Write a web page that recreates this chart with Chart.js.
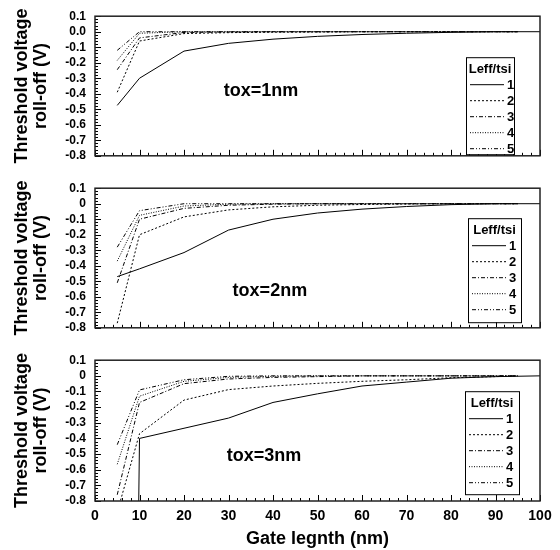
<!DOCTYPE html>
<html>
<head>
<meta charset="utf-8">
<script src="https://cdn.jsdelivr.net/npm/chart.js@4.4.0/dist/chart.umd.min.js"></script>
<style>
body{margin:0;background:#fff;}
#wrap{position:relative;width:560px;height:550px;}
canvas{position:absolute;left:0;}
</style>
</head>
<body>
<div id="wrap">
<canvas id="c1" width="560" height="172" style="top:0px"></canvas>
<canvas id="c2" width="560" height="172" style="top:172px"></canvas>
<canvas id="c3" width="560" height="206" style="top:344px"></canvas>
</div>
<script>
// gate length (nm) - solid curve runs to 100, the others stop at 95
var gateLength = [5, 10, 20, 30, 40, 50, 60, 70, 80, 90, 100];
var gateLengthShort = [5, 10, 20, 30, 40, 50, 60, 70, 80, 90, 95];
var ratioLabels = ['1', '2', '3', '4', '5'];

// tox = 1nm
var tox1_r1 = [-0.475, -0.30, -0.125, -0.075, -0.048, -0.03, -0.018, -0.01, -0.004, 0, 0];
var tox1_r2 = [-0.39, -0.06, -0.012, -0.006, -0.003, -0.002, 0, 0, 0, 0, 0];
var tox1_r3 = [-0.245, -0.04, -0.005, -0.002, 0, 0, 0, 0, 0, 0, 0];
var tox1_r4 = [-0.185, -0.01, 0, 0, 0, 0, 0, 0, 0, 0, 0];
var tox1_r5 = [-0.12, 0, 0, 0, 0, 0, 0, 0, 0, 0, 0];

// tox = 2nm
var tox2_r1 = [-0.47, -0.42, -0.315, -0.17, -0.1, -0.06, -0.035, -0.018, -0.006, 0, 0];
var tox2_r2 = [-0.77, -0.2, -0.085, -0.04, -0.02, -0.01, -0.005, -0.002, 0, 0, 0];
var tox2_r3 = [-0.51, -0.1, -0.03, -0.01, -0.003, 0, 0, 0, 0, 0, 0];
var tox2_r4 = [-0.37, -0.075, -0.015, -0.003, 0, 0, 0, 0, 0, 0, 0];
var tox2_r5 = [-0.28, -0.045, 0, 0, 0, 0, 0, 0, 0, 0, 0];

// tox = 3nm
var tox3_r1 = [-12, -0.40, -0.335, -0.27, -0.17, -0.115, -0.065, -0.04, -0.015, -0.005, 0];
var tox3_r2 = [-0.87, -0.37, -0.155, -0.088, -0.065, -0.048, -0.035, -0.025, -0.012, -0.005, 0];
var tox3_r3 = [-0.76, -0.17, -0.05, -0.02, -0.01, -0.005, 0, 0, 0, 0, 0];
var tox3_r4 = [-0.565, -0.13, -0.035, -0.01, -0.003, 0, 0, 0, 0, 0, 0];
var tox3_r5 = [-0.44, -0.09, -0.025, -0.003, 0, 0, 0, 0, 0, 0, 0];

var fontFam = "'Liberation Sans', Arial, sans-serif";
var dashes = [[], [2, 2], [4, 2, 1, 2], [1, 1.5], [4, 2, 1, 2, 1, 2]];

function series(xs, ys, i) {
    return {
        label: ratioLabels[i],
        data: xs.map(function (x, k) { return { x: x, y: ys[k] }; }),
        borderColor: '#000',
        borderWidth: 1,
        borderDash: dashes[i],
        pointRadius: 0,
        fill: false,
        tension: 0
    };
}

// frame + inward ticks
var frameTicks = {
    id: 'frameTicks',
    afterDatasetsDraw: function (chart) {
        var a = chart.chartArea, ctx = chart.ctx;
        var xs = chart.scales.x, ys = chart.scales.y;
        ctx.save();
        ctx.strokeStyle = '#000';
        ctx.lineWidth = 1;
        ctx.beginPath();
        for (var i = 0; i <= 50; i++) {
            var px = Math.round(xs.getPixelForValue(i * 2)) + 0.5;
            var len = i % 5 == 0 ? 6 : 3;
            ctx.moveTo(px, a.bottom);
            ctx.lineTo(px, a.bottom - len);
        }
        for (var j = -40; j <= 5; j++) {
            var py = Math.round(ys.getPixelForValue(j / 50)) + 0.5;
            var len2 = j % 5 == 0 ? 6 : 3;
            ctx.moveTo(a.left, py);
            ctx.lineTo(a.left + len2, py);
        }
        ctx.stroke();
        ctx.lineWidth = 1.5;
        ctx.strokeStyle = '#222';
        ctx.strokeRect(a.left, a.top, a.right - a.left, a.bottom - a.top);
        ctx.restore();
    }
};

// boxed legend inside the plot
var boxLegend = {
    id: 'boxLegend',
    afterDraw: function (chart, args, opts) {
        var a = chart.chartArea, ctx = chart.ctx;
        var bx = a.right - opts.right, by = a.top + opts.top;
        ctx.save();
        ctx.fillStyle = '#fff';
        ctx.fillRect(bx, by, opts.width, opts.height);
        ctx.strokeStyle = '#000';
        ctx.lineWidth = 1;
        ctx.strokeRect(bx + 0.5, by + 0.5, opts.width, opts.height);
        ctx.fillStyle = '#000';
        ctx.font = 'bold 13px ' + fontFam;
        ctx.textAlign = 'center';
        ctx.textBaseline = 'middle';
        ctx.fillText('Leff/tsi', bx + opts.width / 2, by + 12);
        chart.data.datasets.forEach(function (ds, i) {
            var y = by + 27 + i * 16;
            ctx.beginPath();
            ctx.setLineDash(ds.borderDash);
            ctx.moveTo(bx + 4, y + 0.5);
            ctx.lineTo(bx + 38, y + 0.5);
            ctx.stroke();
            ctx.setLineDash([]);
            ctx.textAlign = 'left';
            ctx.fillText(ds.label, bx + 41, y + 1);
        });
        ctx.restore();
    }
};

// "tox=..." note
var toxLabel = {
    id: 'toxLabel',
    afterDraw: function (chart, args, opts) {
        var ctx = chart.ctx;
        ctx.save();
        ctx.fillStyle = '#000';
        ctx.font = 'bold 18px ' + fontFam;
        ctx.textAlign = 'center';
        ctx.textBaseline = 'middle';
        ctx.fillText(opts.text, chart.scales.x.getPixelForValue(opts.x), chart.scales.y.getPixelForValue(opts.y));
        ctx.restore();
    }
};

function makeChart(id, rows, cfg) {
    var ds = rows.map(function (r, i) { return series(i == 0 ? gateLength : gateLengthShort, r, i); });
    return new Chart(document.getElementById(id).getContext('2d'), {
        type: 'line',
        data: { datasets: ds },
        plugins: [frameTicks, boxLegend, toxLabel],
        options: {
            responsive: false,
            animation: false,
            layout: { padding: cfg.padding },
            plugins: {
                legend: { display: false },
                tooltip: { enabled: false },
                boxLegend: cfg.legend,
                toxLabel: cfg.note
            },
            scales: {
                x: {
                    type: 'linear',
                    min: 0,
                    max: 100,
                    grid: { display: false, drawTicks: false },
                    border: { display: false },
                    ticks: {
                        display: cfg.bottom,
                        autoSkip: false,
                        maxRotation: 0,
                        stepSize: 10,
                        padding: 7,
                        color: '#000',
                        font: { family: fontFam, size: 14, weight: 'bold' }
                    },
                    title: {
                        display: cfg.bottom,
                        text: 'Gate legnth (nm)',
                        color: '#000',
                        padding: { top: 0, bottom: 0 },
                        font: { family: fontFam, size: 18, weight: 'bold' }
                    },
                    afterFit: function (s) { s.height = cfg.bottom ? 49 : 0; }
                },
                y: {
                    min: -0.8,
                    max: 0.1,
                    grid: { display: false, drawTicks: false },
                    border: { display: false },
                    ticks: {
                        stepSize: 0.1,
                        autoSkip: false,
                        padding: 9,
                        color: '#000',
                        font: { family: fontFam, size: 12, weight: 'bold' },
                        callback: function (v) {
                            if (Math.abs(v) < 1e-9) return cfg.zero;
                            return v.toFixed(1);
                        }
                    },
                    title: {
                        display: true,
                        text: ['Threshold voltage', 'roll-off (V)'],
                        color: '#000',
                        padding: { top: 12, bottom: 0 },
                        font: { family: fontFam, size: 18, weight: 'bold', lineHeight: 1.06 }
                    },
                    afterFit: function (s) { s.width = 95; }
                }
            }
        }
    });
}

makeChart('c1', [tox1_r1, tox1_r2, tox1_r3, tox1_r4, tox1_r5], {
    padding: { top: 15, bottom: 2, left: 0, right: 20 },
    bottom: false,
    zero: '0.0',
    legend: { right: 74, top: 41, width: 48, height: 97 },
    note: { text: 'tox=1nm', x: 37.3, y: -0.38 }
});
makeChart('c2', [tox2_r1, tox2_r2, tox2_r3, tox2_r4, tox2_r5], {
    padding: { top: 13, bottom: 3, left: 0, right: 20 },
    bottom: false,
    zero: '0',
    legend: { right: 72, top: 30, width: 53, height: 104 },
    note: { text: 'tox=2nm', x: 39.3, y: -0.565 }
});
makeChart('c3', [tox3_r1, tox3_r2, tox3_r3, tox3_r4, tox3_r5], {
    padding: { top: 13, bottom: 0, left: 0, right: 20 },
    bottom: true,
    zero: '0',
    legend: { right: 75, top: 31, width: 54, height: 103 },
    note: { text: 'tox=3nm', x: 38, y: -0.51 }
});
</script>
</body>
</html>
